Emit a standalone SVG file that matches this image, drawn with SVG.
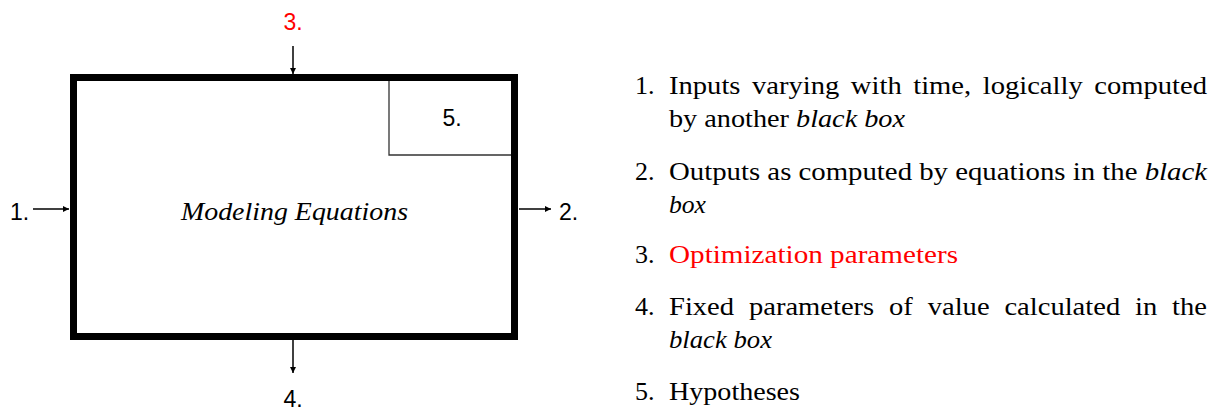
<svg xmlns="http://www.w3.org/2000/svg" width="1220" height="411" viewBox="0 0 1220 411">
<style>
.lbl{font-family:"Liberation Sans",Arial,sans-serif;font-size:23px;fill:#000}
.eq{font-family:"Liberation Serif","Times New Roman",serif;font-style:italic;font-size:25px;fill:#000}
.tx{font-family:"Liberation Serif","Times New Roman",serif;font-size:26px;fill:#000}
.it{font-family:"Liberation Serif","Times New Roman",serif;font-style:italic}
text.red,tspan.red{fill:#ff0000}
.conn line{stroke:#000;stroke-width:1.5;fill:none}
</style>
<defs>
<marker id="ah" viewBox="0 0 10 10" refX="10" refY="5" markerWidth="6" markerHeight="6" markerUnits="userSpaceOnUse" orient="auto">
<path d="M0,0 L10,5 L0,10 z" fill="#000"/>
</marker>
</defs>
<rect width="1220" height="411" fill="#fff"/>
<g id="blackbox">
<rect x="73.5" y="77.5" width="441" height="259" fill="#fff" stroke="#000" stroke-width="7"/>
<text class="eq" x="181" y="220" textLength="227" lengthAdjust="spacingAndGlyphs">Modeling Equations</text>
</g>
<g id="hypotheses-box">
<path d="M389,81 V155 H511" fill="none" stroke="#333" stroke-width="1.3"/>
<text class="lbl" x="452" y="126" text-anchor="middle">5.</text>
</g>
<g id="label1"><text class="lbl" x="10" y="220">1.</text></g>
<g id="label2"><text class="lbl" x="559" y="220">2.</text></g>
<g id="label3"><text class="lbl red" x="293" y="30" text-anchor="middle">3.</text></g>
<g id="label4"><text class="lbl" x="293" y="407" text-anchor="middle">4.</text></g>
<g id="connectors" class="conn">
<line x1="33" y1="209" x2="69" y2="209" marker-end="url(#ah)"/>
<line x1="519" y1="209" x2="551" y2="209" marker-end="url(#ah)"/>
<line x1="293" y1="46" x2="293" y2="74" marker-end="url(#ah)"/>
<line x1="293" y1="340" x2="293" y2="373" marker-end="url(#ah)"/>
</g>
<g id="legend">
<text class="tx" x="635" y="94">1.</text>
<text class="tx" x="669" y="94" word-spacing="4" textLength="538" lengthAdjust="spacingAndGlyphs">Inputs varying with time, logically computed</text>
<text class="tx" x="669" y="127" textLength="236" lengthAdjust="spacingAndGlyphs">by another <tspan class="it">black box</tspan></text>
<text class="tx" x="635" y="180">2.</text>
<text class="tx" x="669" y="180" textLength="538" lengthAdjust="spacingAndGlyphs">Outputs as computed by equations in the <tspan class="it">black</tspan></text>
<text class="tx it" x="669" y="213" textLength="37" lengthAdjust="spacingAndGlyphs">box</text>
<text class="tx" x="635" y="263">3.</text>
<text class="tx red" x="669" y="263" textLength="289" lengthAdjust="spacingAndGlyphs">Optimization parameters</text>
<text class="tx" x="635" y="315">4.</text>
<text class="tx" x="669" y="315" word-spacing="7" textLength="538" lengthAdjust="spacingAndGlyphs">Fixed parameters of value calculated in the</text>
<text class="tx it" x="669" y="348" textLength="103" lengthAdjust="spacingAndGlyphs">black box</text>
<text class="tx" x="635" y="400">5.</text>
<text class="tx" x="669" y="400" textLength="131" lengthAdjust="spacingAndGlyphs">Hypotheses</text>
</g>
</svg>
